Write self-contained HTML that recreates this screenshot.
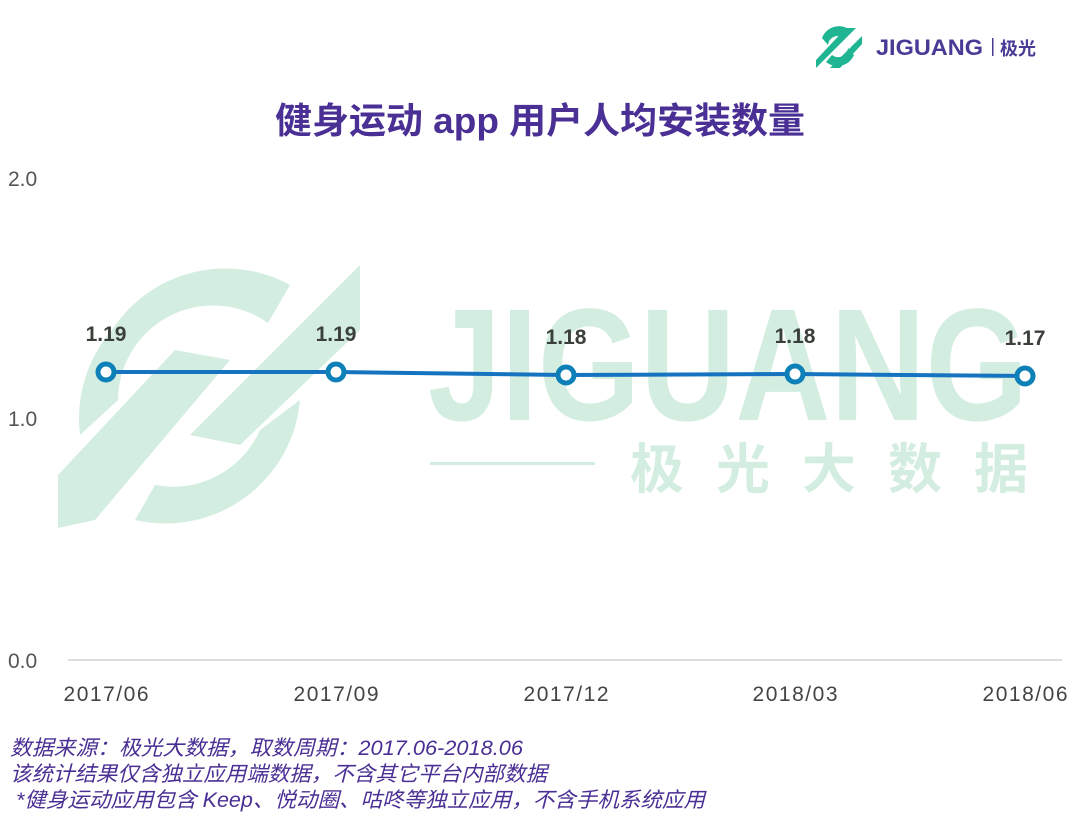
<!DOCTYPE html>
<html><head><meta charset="utf-8"><style>
body{margin:0;width:1080px;height:834px;background:#fff;overflow:hidden;font-family:"Liberation Sans","Noto Sans CJK SC",sans-serif}
</style></head><body>
<svg width="1080" height="834" xmlns="http://www.w3.org/2000/svg" style="position:absolute;left:0;top:0">
<g fill="#d3eee0" stroke="none">
<path d="M112 330 A135 135 0 0 1 290 285 L268 323 A95 95 0 0 0 118 400 L80 435 A135 135 0 0 1 112 330Z"/>
<path d="M300 400 A135 135 0 0 1 135 520 L155 485 A95 95 0 0 0 260 430Z"/>
<polygon points="58,528 58,475 175,350 230,360 95,520"/>
<polygon points="190,435 360,265 360,330 240,445"/>
<text x="428" y="420" font-family="Liberation Sans,sans-serif" font-weight="bold" font-size="160" fill="#d3eee0" textLength="600" lengthAdjust="spacingAndGlyphs">JIGUANG</text>
<rect x="430" y="462" width="165" height="3"/>
<text x="630" y="488" font-family="Noto Sans CJK SC,sans-serif" font-weight="bold" font-size="54" fill="#d3eee0" textLength="398" lengthAdjust="spacing">极光大数据</text>
</g>
<g fill="#1fb592">
<path d="M822 38 A18 18 0 0 1 850 30 L844 38 A10 10 0 0 0 828 45 Z"/>
<path d="M854 55 A18 18 0 0 1 826 62 L832 55 A10 10 0 0 0 848 48 Z"/>
<polygon points="816,68 816,60 846,28 856,28"/>
<polygon points="830,68 862,36 862,44 840,68"/>
</g>
<text x="876" y="55" font-weight="bold" font-size="22" fill="#4a3a96" textLength="107" lengthAdjust="spacingAndGlyphs">JIGUANG</text>
<rect x="992" y="38" width="1.5" height="18" fill="#4a3a96"/>
<text x="1000" y="55" font-family="Noto Sans CJK SC,sans-serif" font-weight="bold" font-size="18" fill="#4a3a96">极光</text>
<text x="540" y="133" text-anchor="middle" font-family="Liberation Sans,Noto Sans CJK SC,sans-serif" font-weight="bold" font-size="36" fill="#4a2f94" textLength="530" lengthAdjust="spacingAndGlyphs">健身运动 app 用户人均安装数量</text>
<g font-size="21" fill="#555">
<text x="8" y="186">2.0</text><text x="8" y="426">1.0</text><text x="8" y="668">0.0</text>
</g>
<line x1="68" y1="660" x2="1062" y2="660" stroke="#ddd" stroke-width="2"/>
<g font-size="21" fill="#444" text-anchor="middle">
<text x="106" y="701" textLength="85">2017/06</text><text x="336" y="701" textLength="85">2017/09</text><text x="566" y="701" textLength="85">2017/12</text><text x="795" y="701" textLength="85">2018/03</text><text x="1025" y="701" textLength="85">2018/06</text>
</g>
<polyline points="106,372 336,372 566,375 795,374 1025,376" fill="none" stroke="#1673c0" stroke-width="4"/>
<g fill="#fff" stroke="#0d80b8" stroke-width="5">
<circle cx="106" cy="372" r="8"/><circle cx="336" cy="372" r="8"/><circle cx="566" cy="375" r="8"/><circle cx="795" cy="374" r="8"/><circle cx="1025" cy="376" r="8"/>
</g>
<g font-size="21" font-weight="bold" fill="#3a3f3a" text-anchor="middle">
<text x="106" y="341">1.19</text><text x="336" y="341">1.19</text><text x="566" y="344">1.18</text><text x="795" y="343">1.18</text><text x="1025" y="345">1.17</text>
</g>
<g font-size="21" fill="#4a2f94" font-style="italic" font-family="Liberation Sans,Noto Sans CJK SC,sans-serif">
<text x="10" y="755" textLength="513" lengthAdjust="spacingAndGlyphs">数据来源：极光大数据，取数周期：2017.06-2018.06</text>
<text x="10" y="781" textLength="537" lengthAdjust="spacingAndGlyphs">该统计结果仅含独立应用端数据，不含其它平台内部数据</text>
<text x="16" y="807" textLength="689" lengthAdjust="spacingAndGlyphs">*健身运动应用包含 Keep、悦动圈、咕咚等独立应用，不含手机系统应用</text>
</g>
</svg>
</body></html>
